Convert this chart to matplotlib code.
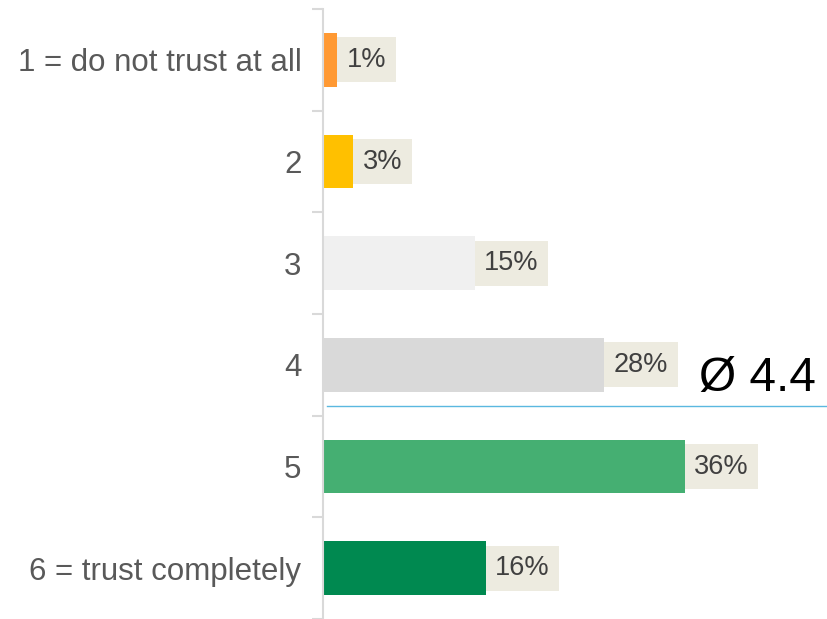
import matplotlib.pyplot as plt

plt.rcParams['font.family'] = ['Liberation Sans', 'DejaVu Sans']

# data
categories = ['1 = do not trust at all', '2', '3', '4', '5', '6 = trust completely']
shares = [1.4, 3, 15.1, 28, 36, 16.2]
labels = ['1%', '3%', '15%', '28%', '36%', '16%']
colors = ['#FF9933', '#FFC000', '#F0F0F0', '#D9D9D9', '#45AF72', '#008950']
mean_value = 4.4

fig = plt.figure(figsize=(8.28, 6.19), dpi=100)
ax = fig.add_axes([323 / 828, 0, 1 - 323 / 828, 1 - 9 / 619])

pos = list(range(1, len(categories) + 1))
ax.barh(pos, shares, height=0.53, color=colors)

# value labels in beige boxes
fs = 19.5
pad = 0.35
for p, v, lab in zip(pos, shares, labels):
    ax.annotate(lab, xy=(v, p), xytext=(pad * fs, 0), textcoords='offset points',
                ha='left', va='center', fontsize=fs, color='#404040',
                bbox=dict(boxstyle='square,pad=%s' % pad, fc='#EDEBE0', ec='none'))

# mean line
ax.plot([0.4, 50.25], [mean_value, mean_value], color='#5BB8E0', lw=1, clip_on=False)
ax.text(49, mean_value - 0.14, 'Ø 4.4', ha='right', va='baseline', fontsize=34.5, color='black')

ax.set_xlim(0, 50.25)
ax.set_ylim(6.5, 0.5)
ax.set_yticks(pos)
ax.set_yticklabels(categories, fontsize=22.5, color='#595959')
ax.tick_params(axis='y', which='major', length=0, pad=15.5)
ax.set_yticks([0.5 + i for i in range(7)], minor=True)
ax.tick_params(axis='y', which='minor', length=8, width=1.5, color='#D9D9D9')
ax.set_xticks([])
for s in ['top', 'right', 'bottom']:
    ax.spines[s].set_visible(False)
ax.spines['left'].set_color('#D9D9D9')
ax.spines['left'].set_linewidth(1.5)

fig.savefig('out.png', dpi=100)
